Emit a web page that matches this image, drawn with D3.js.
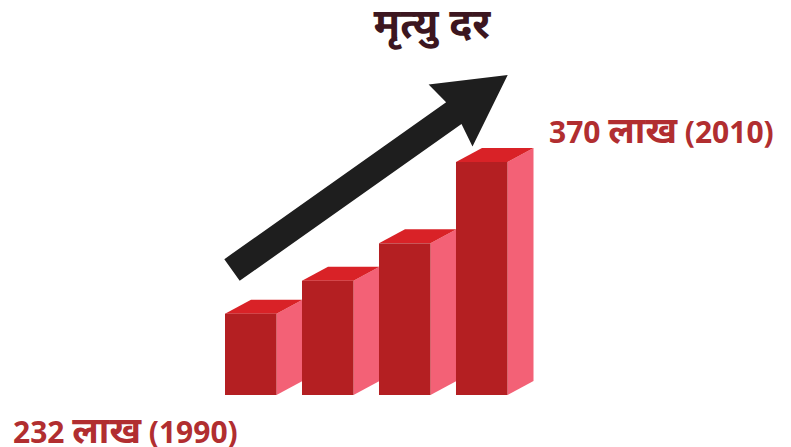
<!DOCTYPE html>
<html>
<head>
<meta charset="utf-8">
<script src="https://cdn.jsdelivr.net/npm/d3@7"></script>
<style>
  html, body { margin: 0; padding: 0; background: #ffffff; }
  svg { display: block; }
  text { font-family: "Open Sans", "Noto Sans", "Noto Sans Devanagari", sans-serif; font-weight: 700; }
</style>
</head>
<body>
<svg id="chart" width="791" height="447"></svg>
<script>
// ---- data ----
const categories = ["1990", "1997", "2003", "2010"];
const deaths = [232, 262, 296, 370];           // lakh
const title = "मृत्यु दर";
const unit = "लाख";
const startLabel = ["232", unit, "(1990)"];
const endLabel = ["370", unit, "(2010)"];

// ---- layout ----
const W = 791, H = 447;
const svg = d3.select("#chart");
const baseY = 395, topY = 162;
const depthX = 26, depthY = -14;

const x = d3.scaleBand().domain(categories).range([225, 507.5]).paddingInner(0.331).paddingOuter(0);
const y = d3.scaleLinear().domain([158, 370]).range([baseY, topY]);

const colFront = "#b41f22", colTop = "#d92227", colSide = "#f36176";

const bars = svg.append("g");
categories.forEach((c, i) => {
  const x0 = x(c), x1 = x(c) + x.bandwidth(), yt = y(deaths[i]);
  const g = bars.append("g");
  g.append("path")
    .attr("d", `M${x1},${baseY} L${x1 + depthX},${baseY + depthY} L${x1 + depthX},${yt + depthY} L${x1},${yt} Z`)
    .attr("fill", colSide);
  g.append("path")
    .attr("d", `M${x0},${yt} L${x0 + depthX},${yt + depthY} L${x1 + depthX},${yt + depthY} L${x1},${yt} Z`)
    .attr("fill", colTop);
  g.append("rect")
    .attr("x", x0).attr("y", yt)
    .attr("width", x.bandwidth()).attr("height", baseY - yt)
    .attr("fill", colFront);
});

// ---- arrow ----
const start = [232, 270], tip = [507.7, 75];
const ang = Math.atan2(tip[1] - start[1], tip[0] - start[0]);
const len = Math.hypot(tip[0] - start[0], tip[1] - start[1]);
const headLen = 66, headHalf = 38, shaftHalf = 13.3;
const pts = [
  [0, -shaftHalf], [len - headLen, -shaftHalf], [len - headLen - 4, -headHalf], [len, 0],
  [len - headLen - 4, headHalf], [len - headLen, shaftHalf], [0, shaftHalf]
];
svg.append("polygon")
  .attr("points", pts.map(p => p.join(",")).join(" "))
  .attr("transform", `translate(${start[0]},${start[1]}) rotate(${ang * 180 / Math.PI})`)
  .attr("fill", "#1e1e1e");

// ---- text ----
svg.append("text")
  .attr("x", 432).attr("y", 38)
  .attr("text-anchor", "middle")
  .attr("font-size", 41)
  .attr("fill", "#3c1620")
  .text(title);

function label(parts, lx, ly) {
  const t = svg.append("text")
    .attr("x", lx).attr("y", ly)
    .attr("font-size", 30)
    .attr("fill", "#b12e30");
  t.append("tspan").text(parts[0] + " ");
  t.append("tspan").attr("font-size", 36).text(parts[1]);
  t.append("tspan").text(" " + parts[2]);
}
label(endLabel, 549, 143);
label(startLabel, 13, 443);
</script>
</body>
</html>
